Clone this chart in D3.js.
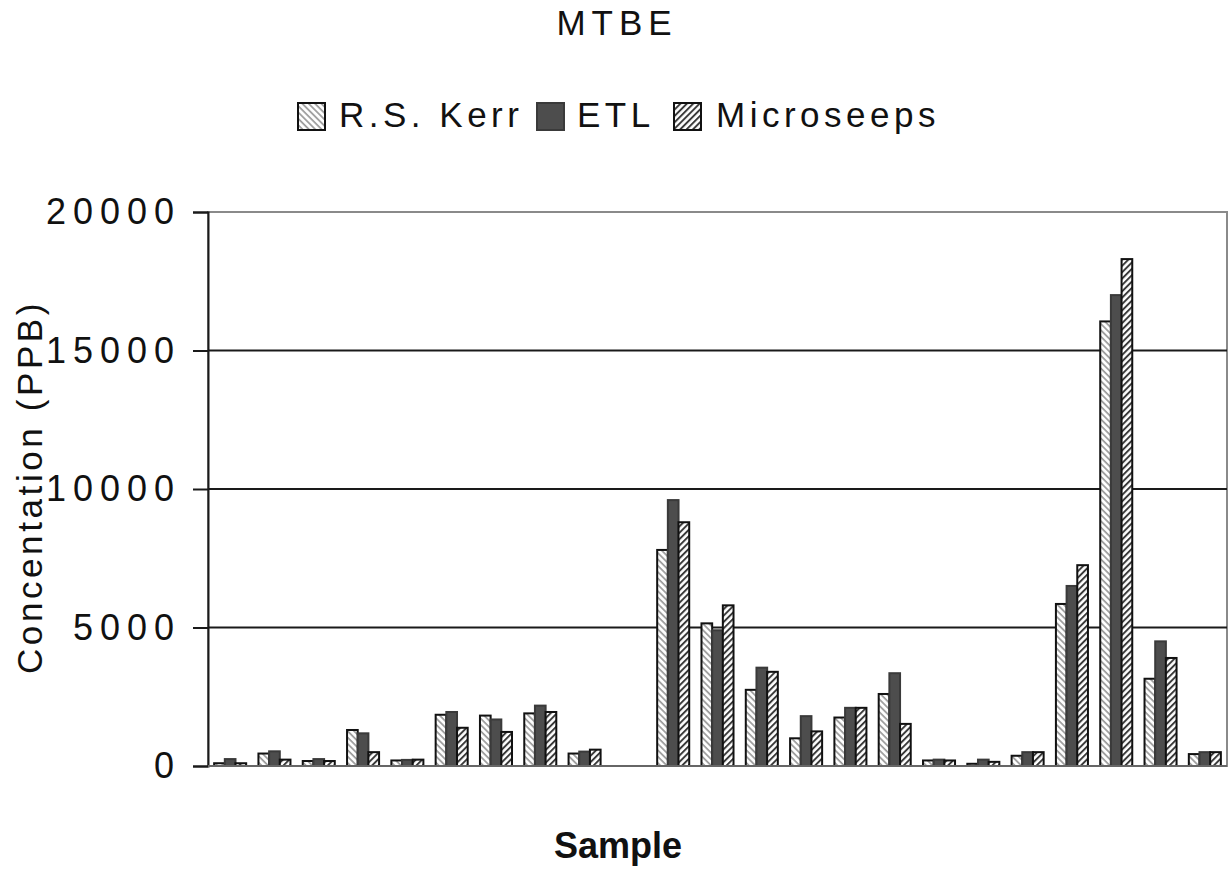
<!DOCTYPE html>
<html><head><meta charset="utf-8">
<script src="https://cdn.jsdelivr.net/npm/d3@7"></script>
<style>
html,body{margin:0;padding:0;background:#fff;}
svg{display:block;font-family:"Liberation Sans",Arial,sans-serif;}
</style></head>
<body><svg id="chart" width="1232" height="869"></svg>
<script>
const categories = ["1","2","3","4","5","6","7","8","9","10","11","12","13","14","15","16","17","18","19","20","21","22","23"];
const seriesNames = ["R.S. Kerr","ETL","Microseeps"];
const rsKerr = [100, 450, 180, 1300, 200, 1850, 1820, 1900, 450, null, 7800, 5150, 2750, 1000, 1750, 2600, 200, 80, 370, 5850, 16050, 3150, 430];
const etl    = [250, 530, 250, 1180, 220, 1950, 1680, 2180, 520, null, 9600, 4900, 3550, 1800, 2100, 3350, 230, 230, 500, 6500, 17000, 4500, 500];
const micro  = [100, 230, 180, 500, 230, 1380, 1230, 1950, 590, null, 8800, 5800, 3400, 1250, 2100, 1520, 200, 150, 500, 7250, 18300, 3900, 500];
const yTicks = [0, 5000, 10000, 15000, 20000];
const seriesValues = [rsKerr, etl, micro];

(function(){
const svg = d3.select("#chart");
const pLeft = 208, pRight = 1227, pTop = 212, pBottom = 766;

const defs = svg.append("defs");
const p1 = defs.append("pattern").attr("id","patKerr").attr("patternUnits","userSpaceOnUse")
  .attr("width",4.5).attr("height",4.5).attr("patternTransform","rotate(-45)");
p1.append("rect").attr("width",4.5).attr("height",4.5).attr("fill","#fff");
p1.append("line").attr("x1",1).attr("y1",0).attr("x2",1).attr("y2",4.5).attr("stroke","#999").attr("stroke-width",1.7);
const p3 = defs.append("pattern").attr("id","patMicro").attr("patternUnits","userSpaceOnUse")
  .attr("width",4.5).attr("height",4.5).attr("patternTransform","rotate(45)");
p3.append("rect").attr("width",4.5).attr("height",4.5).attr("fill","#fff");
p3.append("line").attr("x1",1).attr("y1",0).attr("x2",1).attr("y2",4.5).attr("stroke","#333").attr("stroke-width",1.9);

const fills = ["url(#patKerr)", "#4d4d4d", "url(#patMicro)"];
const strokes = ["#111", "#3a3a3a", "#111"];

const x0 = d3.scaleBand().domain(categories).range([pLeft, pRight]).paddingInner(0.277).paddingOuter(0.1385);
const x1 = d3.scaleBand().domain(seriesNames).range([0, x0.bandwidth()]);
const y = d3.scaleLinear().domain([0, 20000]).range([pBottom, pTop]);

svg.append("rect").attr("x",pLeft).attr("y",pTop).attr("width",pRight-pLeft).attr("height",pBottom-pTop)
  .attr("fill","none").attr("stroke","#8a8a8a").attr("stroke-width",2);

svg.append("g").selectAll("line").data(yTicks.filter(d=>d>0 && d<20000)).join("line")
  .attr("x1",pLeft).attr("x2",pRight).attr("y1",d=>y(d)).attr("y2",d=>y(d))
  .attr("stroke","#1a1a1a").attr("stroke-width",2);

const yAxis = d3.axisLeft(y).tickValues(yTicks).tickSize(15).tickPadding(12).tickFormat(d3.format("d"));
const ya = svg.append("g").attr("transform",`translate(${pLeft},0)`).call(yAxis);
ya.select(".domain").attr("stroke","#1a1a1a").attr("stroke-width",2);
ya.selectAll(".tick line").attr("stroke","#1a1a1a").attr("stroke-width",2);
ya.selectAll(".tick text").attr("font-size",36).attr("letter-spacing","7px").attr("fill","#111")
  .attr("font-family","Liberation Sans, Arial, sans-serif");

const groups = svg.append("g").selectAll("g").data(categories).join("g")
  .attr("transform",c=>`translate(${x0(c)},0)`);
groups.selectAll("rect").data((c,i)=>seriesNames.map((s,k)=>({s,k,v:seriesValues[k][i]})).filter(d=>d.v!=null))
  .join("rect")
  .attr("x",d=>x1(d.s)).attr("width",x1.bandwidth())
  .attr("y",d=>y(d.v)).attr("height",d=>y(0)-y(d.v))
  .attr("fill",d=>fills[d.k]).attr("stroke",d=>strokes[d.k]).attr("stroke-width",2);

svg.append("line").attr("x1",pLeft).attr("x2",pRight).attr("y1",pBottom).attr("y2",pBottom)
  .attr("stroke","#666").attr("stroke-width",2);

svg.append("text").attr("x",617).attr("y",35).attr("text-anchor","middle")
  .attr("font-size",35).attr("letter-spacing","6px").attr("fill","#111").text("MTBE");

const legendItems = [
  {name:seriesNames[0], sx:298, tx:339},
  {name:seriesNames[1], sx:537, tx:577},
  {name:seriesNames[2], sx:674, tx:716}
];
const lg = svg.append("g");
legendItems.forEach((it,k)=>{
  lg.append("rect").attr("x",it.sx).attr("y",103).attr("width",27).attr("height",27)
    .attr("fill",fills[k]).attr("stroke",strokes[k]).attr("stroke-width",2);
  lg.append("text").attr("x",it.tx).attr("y",127).attr("font-size",35).attr("letter-spacing","4.5px")
    .attr("fill","#111").text(it.name);
});

svg.append("text").attr("transform","translate(42,487) rotate(-90)").attr("text-anchor","middle")
  .attr("font-size",35).attr("letter-spacing","3.6px").attr("fill","#111").text("Concentation (PPB)");
svg.append("text").attr("x",618).attr("y",858).attr("text-anchor","middle")
  .attr("font-size",36).attr("font-weight","bold").attr("fill","#111").text("Sample");
})();
</script>
</body></html>
